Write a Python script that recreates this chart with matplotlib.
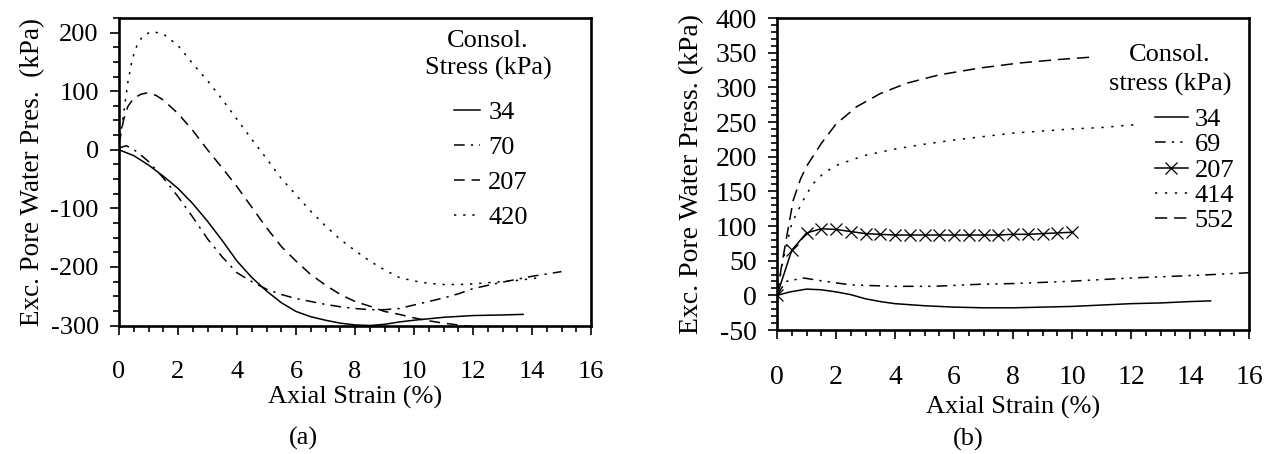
import matplotlib
matplotlib.use("Agg")
import matplotlib.pyplot as plt
from matplotlib.ticker import MultipleLocator

plt.rcParams["font.family"] = ["Liberation Serif", "DejaVu Serif"]
plt.rcParams["axes.unicode_minus"] = False

# ---- panel (a) data ----
strain_a34 = [0, 0.5, 1.0, 1.5, 2.0, 2.5, 3.0, 3.5, 4.0, 4.5, 5.0, 5.5, 6.0, 6.5,
              7.0, 7.5, 8.0, 8.5, 9.0, 9.5, 10.0, 11.0, 12.0, 13.0, 13.7]
epwp_a34 = [0, -10, -26, -45, -66, -92, -122, -155, -190, -218, -241, -261, -276, -285,
            -291, -296, -299, -300, -298, -294, -291, -286, -283, -282, -281]

strain_a70 = [0, 0.25, 0.6, 1.0, 1.5, 2.0, 2.5, 3.0, 3.5, 4.0, 4.5, 5.0, 5.5, 6.0, 6.5,
              7.0, 7.5, 8.0, 8.5, 9.0, 9.5, 10.0, 10.5, 11.0, 11.5, 12.0, 13.0, 14.0, 15.0]
epwp_a70 = [3, 7, -3, -20, -48, -80, -115, -152, -183, -210, -225, -238, -247, -254, -259,
            -264, -268, -271, -273, -273, -271, -265, -259, -253, -246, -237, -226, -216, -208]

strain_a207 = [0, 0.15, 0.3, 0.5, 0.75, 0.95, 1.25, 1.5, 2.0, 2.5, 3.0, 3.5, 4.0, 4.5,
               5.0, 5.5, 6.0, 6.5, 7.0, 7.5, 8.0, 8.5, 9.0, 9.5, 10.0, 10.5, 11.0, 11.5, 12.0]
epwp_a207 = [10, 50, 74, 88, 95, 97, 93, 85, 62, 33, 0, -31, -63, -98,
             -133, -165, -190, -213, -231, -247, -259, -267, -276, -281, -287, -292, -296, -299, -302]

strain_a420 = [0, 0.15, 0.3, 0.45, 0.6, 0.8, 1.1, 1.5, 2.0, 2.5, 3.0, 3.5, 4.0, 4.5, 5.0,
               5.5, 6.0, 6.5, 7.0, 7.5, 8.0, 8.5, 9.0, 9.5, 10.0, 10.5, 11.0, 11.5, 12.0,
               12.5, 13.0, 13.5, 14.0, 14.3]
epwp_a420 = [5, 60, 115, 155, 177, 194, 202, 198, 178, 147, 118, 86, 52, 18, -15,
             -49, -77, -105, -130, -153, -172, -190, -205, -218, -224, -228, -230, -230, -229,
             -227, -225, -223, -220, -218]

# ---- panel (b) data ----
strain_b34 = [0, 0.45, 1.0, 1.5, 2.0, 2.5, 3.0, 3.5, 4.0, 5.0, 6.0, 7.0, 8.0, 9.0, 10.0,
              11.0, 12.0, 13.0, 14.0, 14.7]
epwp_b34 = [0, 5, 9, 8, 5, 1, -5, -9, -12, -15, -17, -18, -18, -17, -16,
            -14, -12, -11, -9, -8]

strain_b69 = [0, 0.3, 0.9, 1.5, 2.5, 4.0, 5.3, 6.9, 8.0, 9.8, 12.0, 14.3, 16.2]
epwp_b69 = [0, 20, 25, 21, 15, 13, 13, 16, 17, 20, 25, 29, 33]

strain_b207 = [0, 0.5, 1.0, 1.5, 2.0, 2.5, 3.0, 3.5, 4.0, 4.5, 5.0, 5.5, 6.0, 6.5, 7.0,
               7.5, 8.0, 8.5, 9.0, 9.5, 10.0]
epwp_b207 = [0, 65, 90, 96, 95, 92, 89, 88, 87, 87, 87, 87, 87, 87, 87,
             87, 88, 88, 89, 90, 91]

strain_b414 = [0, 0.2, 0.5, 0.9, 1.2, 1.6, 2.1, 3.0, 4.0, 5.0, 6.0, 7.0, 8.0, 9.0, 10.0,
               11.0, 12.1]
epwp_b414 = [0, 50, 104, 138, 160, 177, 189, 202, 211, 218, 224, 229, 234, 237, 240,
             242, 246]

strain_b552 = [0, 0.15, 0.33, 0.55, 0.8, 1.0, 1.5, 2.0, 2.7, 3.5, 4.4, 5.5, 6.9, 8.2,
               9.5, 10.8]
epwp_b552 = [0, 41, 85, 137, 168, 186, 219, 247, 272, 291, 306, 318, 328, 335, 340, 344]

W, H = 1274, 454
fig = plt.figure(figsize=(W / 100, H / 100), dpi=100)


def px_axes(left, top, right, bottom):
    return fig.add_axes([left / W, 1 - bottom / H, (right - left) / W, (bottom - top) / H])


def px_frac(ax, x, y):
    # pixel position -> axes fraction
    b = ax.get_position()
    return (x / W - b.x0) / b.width, (1 - y / H - b.y0) / b.height


def style_axes(ax, ymaj, ymin, size):
    for sp in ax.spines.values():
        sp.set_linewidth(1.9)
    ax.xaxis.set_major_locator(MultipleLocator(2))
    ax.xaxis.set_minor_locator(MultipleLocator(0.5))
    ax.yaxis.set_major_locator(MultipleLocator(ymaj))
    ax.yaxis.set_minor_locator(MultipleLocator(ymin))
    ax.tick_params(which="both", direction="out", top=False, right=False, width=1.2)
    ax.tick_params(which="major", length=6.5)
    ax.tick_params(which="minor", length=4.5)
    ax.tick_params(axis="x", which="major", pad=19, labelsize=size)
    ax.tick_params(axis="y", which="major", pad=8, labelsize=size)


lw = 1.1

# panel (a)
ax1 = px_axes(119, 18, 591, 325.5)
ax1.plot(strain_a34, epwp_a34, color="k", lw=lw, label="34")
ax1.plot(strain_a70, epwp_a70, color="k", lw=lw, dashes=(7, 4, 1.5, 4), label="70")
ax1.plot(strain_a207, epwp_a207, color="k", lw=lw, dashes=(7, 4.5), label="207")
ax1.plot(strain_a420, epwp_a420, color="k", lw=lw, dashes=(1.5, 4.5), label="420")
ax1.set_xlim(0, 16)
ax1.set_ylim(-300, 225)
style_axes(ax1, 100, 25, 19)
ax1.set_xlabel("Axial Strain (%)", fontsize=19, labelpad=2)
ax1.set_ylabel("Exc. Pore Water Pres.  (kPa)", fontsize=19.5, labelpad=4)
ax1.legend(loc="center left", bbox_to_anchor=px_frac(ax1, 454, 165), frameon=False,
           fontsize=19, handlelength=1.0, handletextpad=0.3, labelspacing=0.44,
           borderpad=0, borderaxespad=0)
tx, ty = px_frac(ax1, 488, 55)
ax1.text(tx, ty, "Consol.\nStress (kPa)", transform=ax1.transAxes, ha="center",
         va="center", multialignment="center", fontsize=19, linespacing=1.3)

# panel (b)
ax2 = px_axes(777, 18, 1249, 330)
ax2.plot(strain_b34, epwp_b34, color="k", lw=lw, label="34")
ax2.plot(strain_b69, epwp_b69, color="k", lw=lw, dashes=(7, 4, 1.5, 4, 1.5, 4),
         label="69", clip_on=False)
ax2.plot(strain_b207, epwp_b207, color="k", lw=lw, marker="x", markersize=9,
         markeredgewidth=0.9, label="207")
ax2.plot(strain_b414, epwp_b414, color="k", lw=lw, dashes=(1.5, 5), label="414")
ax2.plot(strain_b552, epwp_b552, color="k", lw=lw, dashes=(8, 4.5), label="552")
ax2.set_xlim(0, 16)
ax2.set_ylim(-50, 400)
style_axes(ax2, 50, 10, 20)
ax2.set_xlabel("Axial Strain (%)", fontsize=19, labelpad=4)
ax2.set_ylabel("Exc. Pore Water Press. (kPa)", fontsize=20, labelpad=8)
ax2.legend(loc="center left", bbox_to_anchor=px_frac(ax2, 1155, 170), frameon=False,
           fontsize=19, handlelength=1.25, handletextpad=0.25, labelspacing=0.07,
           borderpad=0, borderaxespad=0)
tx, ty = px_frac(ax2, 1170, 70)
ax2.text(tx, ty, "Consol.\nstress (kPa)", transform=ax2.transAxes, ha="center",
         va="center", multialignment="center", fontsize=19, linespacing=1.36)

fig.text(303 / W, 1 - 438 / H, "(a)", ha="center", va="center", fontsize=19)
fig.text(968 / W, 1 - 439 / H, "(b)", ha="center", va="center", fontsize=19)

fig.savefig("out.png", dpi=100)
